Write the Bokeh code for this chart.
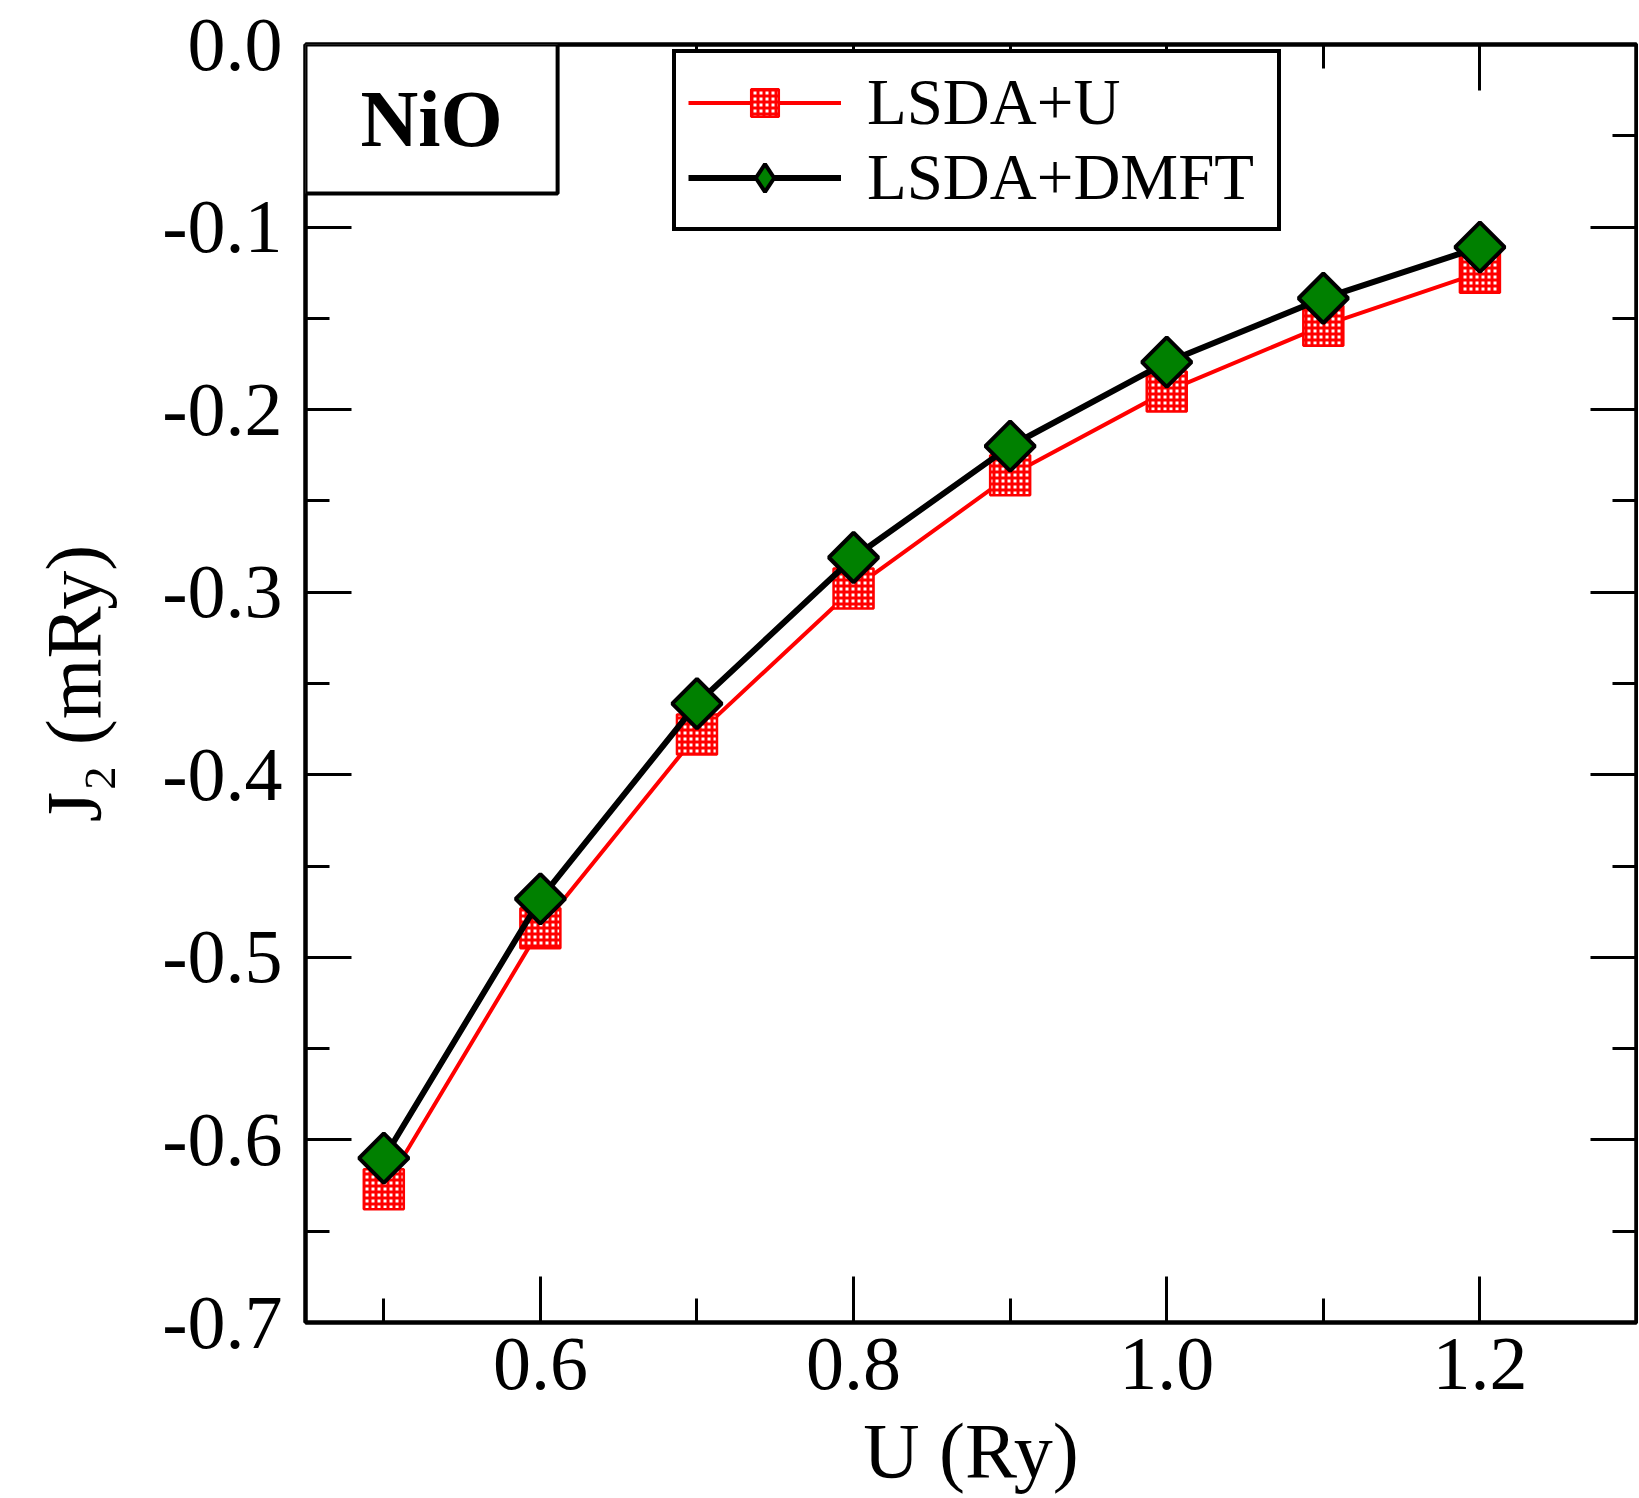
import math
from bokeh.plotting import figure
from bokeh.models import (Range1d, FixedTicker, PrintfTickFormatter, LinearAxis,
                          Legend, LegendItem, BoxAnnotation, Label,
                          CustomJSTickFormatter)
from bokeh.embed import file_html
from bokeh.resources import INLINE

# ---- data ----
U = [0.5, 0.6, 0.7, 0.8, 0.9, 1.0, 1.1, 1.2]
lsda_u = [-0.627, -0.484, -0.378, -0.298, -0.236, -0.190, -0.154, -0.125]
lsda_dmft = [-0.610, -0.468, -0.361, -0.281, -0.220, -0.174, -0.139, -0.111]

x_major = [0.6, 0.8, 1.0, 1.2]
x_minor = [0.5, 0.7, 0.9, 1.1]
y_major = [-0.7, -0.6, -0.5, -0.4, -0.3, -0.2, -0.1, 0.0]
y_minor = [-0.65, -0.55, -0.45, -0.35, -0.25, -0.15, -0.05]

FONT = "Liberation Serif"

p = figure(width=1638, height=1497, output_backend="svg", toolbar_location=None,
           x_range=Range1d(0.45, 1.3), y_range=Range1d(-0.7, 0.0),
           min_border_left=305, min_border_right=2, min_border_top=44,
           min_border_bottom=175)
p.grid.visible = False
p.outline_line_color = "black"
p.outline_line_alpha = 1.0
p.outline_line_width = 4
p.background_fill_color = "white"

def style_axis(ax, show_labels):
    ax.axis_line_width = 4
    ax.axis_line_color = "black"
    ax.major_tick_in = 46
    ax.major_tick_out = 0
    ax.minor_tick_in = 24
    ax.minor_tick_out = 0
    ax.major_tick_line_width = 3
    ax.minor_tick_line_width = 3
    ax.major_tick_line_color = "black"
    ax.minor_tick_line_color = "black"
    ax.major_label_text_font = FONT
    ax.major_label_text_color = "black"
    if show_labels:
        ax.major_label_text_font_size = "76px"
    else:
        ax.formatter = CustomJSTickFormatter(code="return ''")
        ax.major_label_standoff = 0

xt = FixedTicker(ticks=x_major, minor_ticks=x_minor)
yt = FixedTicker(ticks=y_major, minor_ticks=y_minor)

xa = p.xaxis[0]
xa.ticker = xt
xa.formatter = PrintfTickFormatter(format="%.1f")
style_axis(xa, True)
xa.major_label_standoff = 16
xa.axis_label = "U (Ry)"
xa.axis_label_text_font = FONT
xa.axis_label_text_font_size = "78px"
xa.axis_label_text_font_style = "normal"
xa.axis_label_text_color = "black"
xa.axis_label_standoff = 15

ya = p.yaxis[0]
ya.ticker = yt
ya.formatter = PrintfTickFormatter(format="%.1f")
ya.major_label_overrides = {0.0: "0.0"}
style_axis(ya, True)
ya.major_label_standoff = 23
ya.axis_label = "J\u2082 (mRy)"
ya.axis_label_text_font = FONT
ya.axis_label_text_font_size = "78px"
ya.axis_label_text_font_style = "normal"
ya.axis_label_text_color = "black"
ya.axis_label_standoff = 42

top_ax = LinearAxis(ticker=xt)
style_axis(top_ax, False)
p.add_layout(top_ax, "above")
right_ax = LinearAxis(ticker=yt)
style_axis(right_ax, False)
p.add_layout(right_ax, "right")

# ---- series ----
r_line = p.line(U, lsda_u, line_color="red", line_width=4)
r_sq = p.scatter(U, lsda_u, marker="square", size=40, fill_color="white",
                 hatch_pattern="cross", hatch_color="red", hatch_scale=6,
                 hatch_weight=3, line_color="red", line_width=2.5)
k_line = p.line(U, lsda_dmft, line_color="black", line_width=6)
# diamond-shaped twin (hidden under the rotated squares) used for the legend key
k_dm_key = p.scatter(U, lsda_dmft, marker="diamond", size=34,
                     fill_color="#008000", line_color="black", line_width=4)
k_dm = p.scatter(U, lsda_dmft, marker="square", angle=math.pi / 4, size=35,
                 fill_color="#008000", line_color="black", line_width=4)

# ---- NiO box ----
box = BoxAnnotation(left=0.45, right=0.611, top=0.0, bottom=-0.0816,
                    fill_color="white", fill_alpha=1.0,
                    line_color="black", line_alpha=1.0, line_width=4)
p.add_layout(box)
p.add_layout(Label(x=0.5305, y=-0.0408, text="NiO", text_font=FONT,
                   text_font_size="80px", text_font_style="bold",
                   text_color="black",
                   text_align="center", text_baseline="middle"))

# ---- legend ----
legend = Legend(items=[LegendItem(label="LSDA+U", renderers=[r_line, r_sq]),
                       LegendItem(label="LSDA+DMFT", renderers=[k_line, k_dm_key])],
                location=(367, 1091), orientation="vertical")
legend.label_text_font = FONT
legend.label_text_font_size = "65px"
legend.label_text_color = "black"
legend.label_text_baseline = "middle"
legend.glyph_width = 153
legend.glyph_height = 69
legend.label_height = 69
legend.label_width = 398
legend.spacing = 0
legend.padding = 12
legend.margin = 0
legend.label_standoff = 26
legend.border_line_color = "black"
legend.border_line_alpha = 1.0
legend.border_line_width = 4
legend.background_fill_color = "white"
legend.background_fill_alpha = 1.0
p.add_layout(legend)

open("out.html", "w").write(file_html(p, INLINE))
